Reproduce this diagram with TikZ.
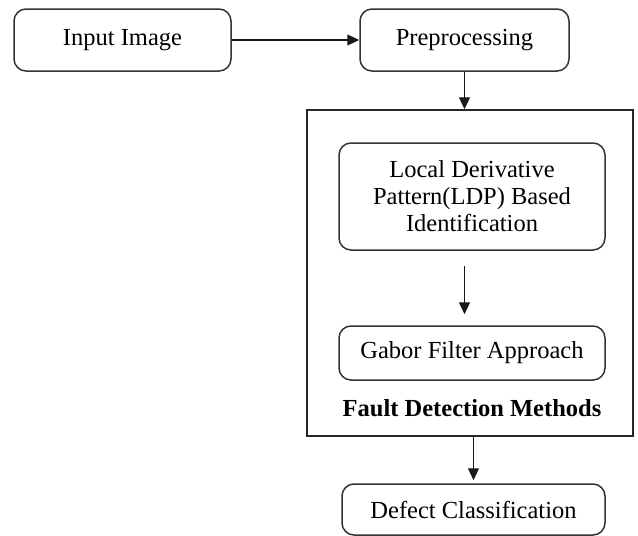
\documentclass[tikz,border=0pt]{standalone}
\usepackage{fontspec}
\setmainfont{Liberation Serif}
\usetikzlibrary{arrows.meta,calc}
\begin{document}
\begin{tikzpicture}[x=1pt,y=-1pt,
  rbox/.style={draw=black!80,line width=1.5pt,rounded corners=12pt,inner sep=0pt,align=center,font=\fontsize{24.5}{27}\selectfont},
  frame/.style={draw=black!85,line width=1.5pt,inner sep=0pt},
  arr/.style={-{Triangle[length=12pt,width=11pt]},line width=1.2pt,draw=black!90}]
\useasboundingbox (0,0) rectangle (638,536);
\node[rbox,minimum width=217pt,minimum height=62pt] (inp) at (122.5,40) {Input Image};
\node[rbox,minimum width=209pt,minimum height=62pt] (prep) at (464.5,40) {Preprocessing};
\node[frame,minimum width=326pt,minimum height=326pt] (outer) at (470,273) {};
\node[rbox,minimum width=266pt,minimum height=107pt] (ldp) at (472,196.5) {Local Derivative\\Pattern(LDP) Based\\Identification};
\node[rbox,minimum width=266pt,minimum height=54pt] (gab) at (472,353) {Gabor Filter Approach};
\node[font=\fontsize{24.5}{27}\selectfont\bfseries] (fdm) at (472,408) {Fault Detection Methods};
\node[rbox,minimum width=263pt,minimum height=51pt] (def) at (473.5,509.5) {Defect Classification};
\draw[arr] (inp.east) -- (prep.west);
\draw[arr] (prep.south) -- (prep.south |- outer.north);
\draw[arr,shorten <=15pt,shorten >=11pt] (ldp.south -| prep.south) -- (gab.north -| prep.south);
\draw[arr,shorten >=3pt] (def.north |- outer.south) -- (def.north);
\end{tikzpicture}
\end{document}
